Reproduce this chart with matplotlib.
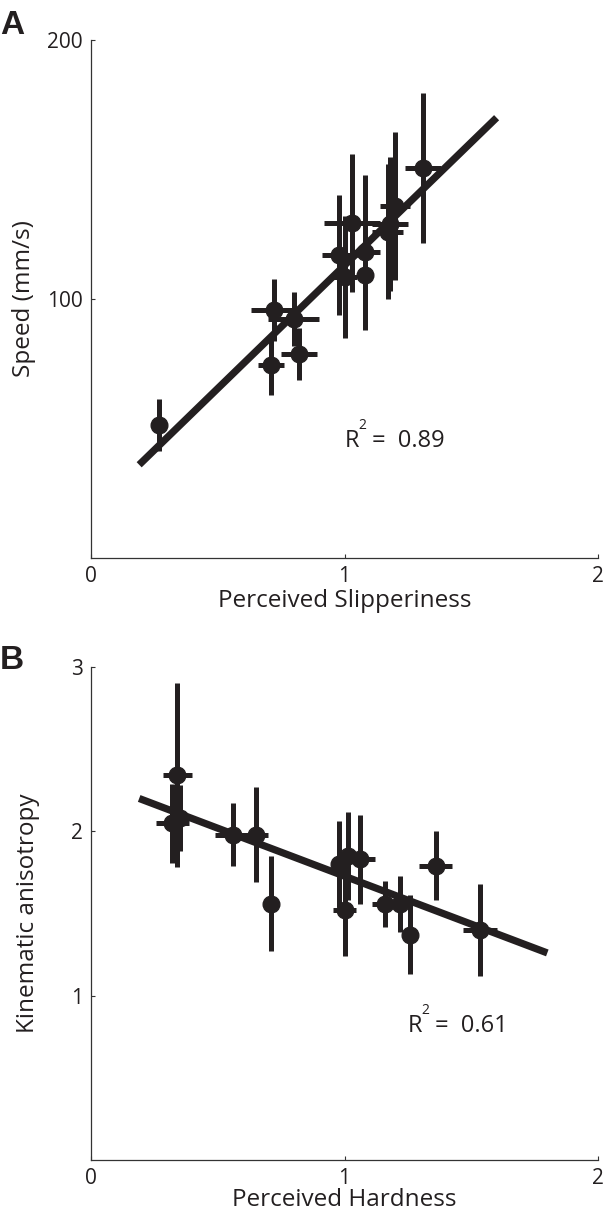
import matplotlib
matplotlib.use("Agg")
import matplotlib.pyplot as plt
from matplotlib.transforms import offset_copy

plt.rcParams['font.family'] = ['Open Sans', 'DejaVu Sans']

INK = '#231f20'

# Panel A: perceived slipperiness vs speed
slip_x = [0.27, 0.71, 0.72, 0.80, 0.82, 0.98, 1.00, 1.03, 1.08, 1.08, 1.17, 1.18, 1.20, 1.31]
slip_xerr = [0.00, 0.05, 0.09, 0.10, 0.07, 0.07, 0.05, 0.11, 0.06, 0.00, 0.06, 0.07, 0.06, 0.07]
speed_y = [51.4, 74.5, 95.8, 92.3, 78.8, 117.0, 108.5, 129.3, 118.0, 109.3, 126.0, 129.0, 136.0, 150.6]
speed_yerr = [10.0, 11.6, 12.0, 10.4, 10.0, 23.0, 23.5, 26.6, 30.0, 20.0, 26.0, 26.0, 28.6, 29.0]
fit_a_x = [0.19, 1.60]
fit_a_y = [36.0, 170.0]
r2_a = "0.89"

# Panel B: perceived hardness vs kinematic anisotropy
hard_x = [0.34, 0.32, 0.35, 0.56, 0.65, 0.71, 0.98, 1.015, 1.06, 1.00, 1.16, 1.22, 1.26, 1.36, 1.535]
hard_xerr = [0.057, 0.065, 0.05, 0.07, 0.05, 0.0, 0.0, 0.0, 0.06, 0.046, 0.05, 0.045, 0.0, 0.066, 0.066]
aniso_y = [2.34, 2.05, 2.08, 1.98, 1.98, 1.56, 1.80, 1.85, 1.83, 1.52, 1.56, 1.56, 1.37, 1.79, 1.40]
aniso_yerr = [0.56, 0.24, 0.20, 0.19, 0.29, 0.29, 0.26, 0.27, 0.27, 0.28, 0.14, 0.17, 0.24, 0.21, 0.28]
fit_b_x = [0.19, 1.80]
fit_b_y = [2.20, 1.26]
r2_b = "0.61"

fig = plt.figure(figsize=(6.04, 12.13), dpi=100)
ax_a = fig.add_axes([91 / 604, 1 - 558 / 1213, 507 / 604, 518 / 1213])
ax_b = fig.add_axes([91 / 604, 1 - 1160 / 1213, 507 / 604, 493 / 1213])


def draw_panel(ax, x, xerr, y, yerr, fx, fy):
    ax.errorbar(x, y, xerr=xerr, yerr=yerr, fmt='o', color=INK, ms=12,
                elinewidth=3.6, capsize=0, zorder=3)
    ax.plot(fx, fy, color=INK, lw=5.2, solid_capstyle='butt', zorder=4)
    for side in ['top', 'right']:
        ax.spines[side].set_visible(False)
    for side in ['left', 'bottom']:
        ax.spines[side].set_color('#333333')
        ax.spines[side].set_linewidth(0.9)
    ax.tick_params(direction='in', length=3, width=0.8, color='#333333',
                   labelsize=15, pad=6, labelcolor=INK)


def r_squared(ax, x, y, value):
    # R, raised small 2, then "=  value" (dot offsets)
    ax.text(x, y, 'R', fontsize=17, color=INK, ha='left', va='baseline')
    t2 = offset_copy(ax.transData, fig=fig, x=14, y=18, units='dots')
    ax.text(x, y, '2', fontsize=10, color=INK, ha='left', va='baseline', transform=t2)
    t3 = offset_copy(ax.transData, fig=fig, x=27, y=0, units='dots')
    ax.text(x, y, '=  ' + value, fontsize=17, color=INK, ha='left', va='baseline', transform=t3)


draw_panel(ax_a, slip_x, slip_xerr, speed_y, speed_yerr, fit_a_x, fit_a_y)
ax_a.set_xlim(0, 2)
ax_a.set_ylim(0, 200)
ax_a.set_xticks([0, 1, 2])
ax_a.set_yticks([100, 200])
ax_a.set_xlabel('Perceived Slipperiness', fontsize=17.5, color=INK, labelpad=1)
ax_a.set_ylabel('Speed (mm/s)', fontsize=17.5, color=INK, labelpad=8)
r_squared(ax_a, 1.0, 43, r2_a)

draw_panel(ax_b, hard_x, hard_xerr, aniso_y, aniso_yerr, fit_b_x, fit_b_y)
ax_b.set_xlim(0, 2)
ax_b.set_ylim(0, 3)
ax_b.set_xticks([0, 1, 2])
ax_b.set_yticks([1, 2, 3])
ax_b.set_xlabel('Perceived Hardness', fontsize=17.5, color=INK, labelpad=-1)
ax_b.set_ylabel('Kinematic anisotropy', fontsize=17.5, color=INK, labelpad=22)
r_squared(ax_b, 1.25, 0.78, r2_b)

fig.text(0.0, 1 - 34 / 1213, 'A', fontsize=24, fontweight='bold',
         family='Liberation Sans', color=INK, ha='left', va='baseline')
fig.text(0.0, 1 - 669 / 1213, 'B', fontsize=24, fontweight='bold',
         family='Liberation Sans', color=INK, ha='left', va='baseline')

fig.savefig('out.png', dpi=100)
